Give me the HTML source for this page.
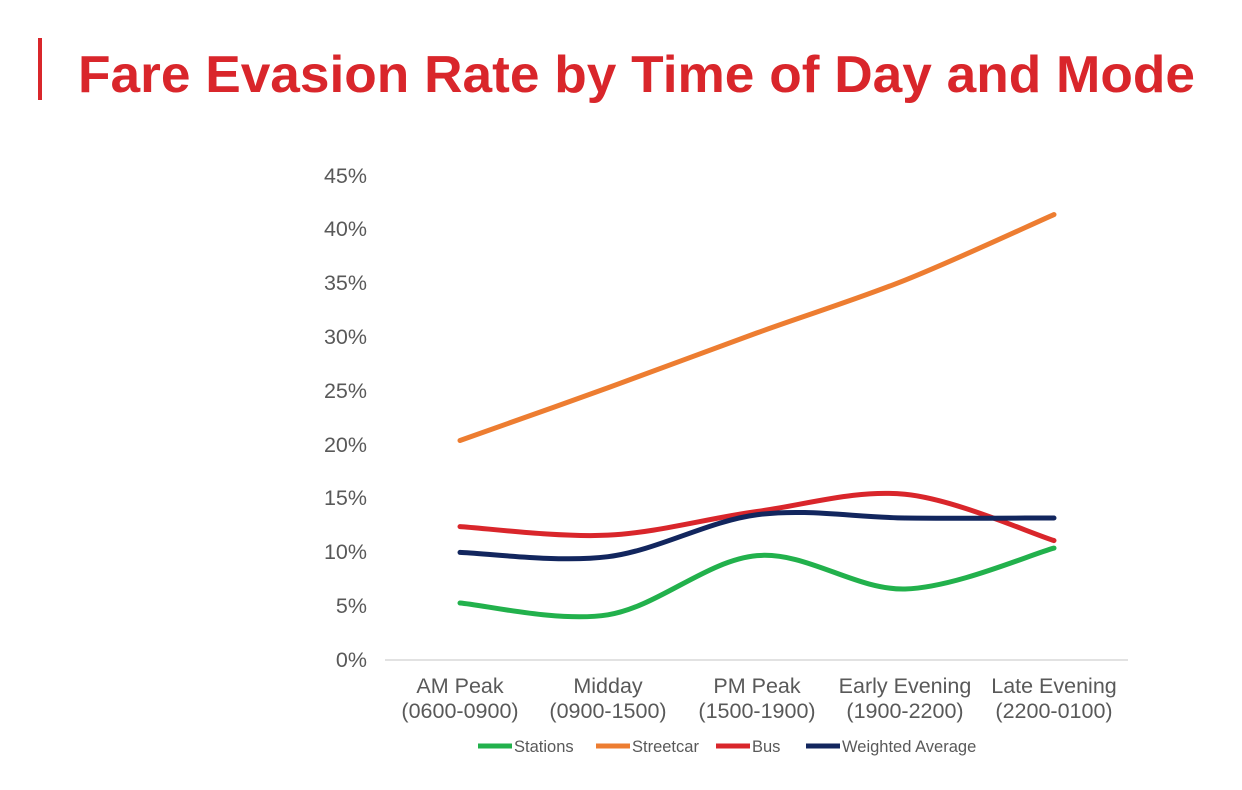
<!DOCTYPE html>
<html><head><meta charset="utf-8"><style>
body{margin:0;background:#fff;width:1242px;height:785px;overflow:hidden;font-family:"Liberation Sans",sans-serif}
</style></head><body>
<svg id="s" width="1242" height="785" xmlns="http://www.w3.org/2000/svg" font-family="Liberation Sans, sans-serif">
<rect x="38" y="38" width="4" height="62" fill="#d9262b"/>
<text x="78" y="92" font-size="52" font-weight="bold" fill="#d9262b" textLength="1117" lengthAdjust="spacingAndGlyphs">Fare Evasion Rate by Time of Day and Mode</text>
<line x1="385" y1="660" x2="1128" y2="660" stroke="#d9d9d9" stroke-width="1.5"/>
<g font-size="21.5" fill="#595959" text-anchor="end">
<text x="367" y="667">0%</text><text x="367" y="613">5%</text><text x="367" y="559">10%</text>
<text x="367" y="505">15%</text><text x="367" y="452">20%</text><text x="367" y="398">25%</text>
<text x="367" y="344">30%</text><text x="367" y="290">35%</text><text x="367" y="236">40%</text><text x="367" y="183">45%</text>
</g>
<g font-size="21.5" fill="#595959" text-anchor="middle">
<text x="460" y="693">AM Peak</text><text x="460" y="718">(0600-0900)</text>
<text x="608" y="693">Midday</text><text x="608" y="718">(0900-1500)</text>
<text x="757" y="693">PM Peak</text><text x="757" y="718">(1500-1900)</text>
<text x="905" y="693">Early Evening</text><text x="905" y="718">(1900-2200)</text>
<text x="1054" y="693">Late Evening</text><text x="1054" y="718">(2200-0100)</text>
</g>
<g id="lines" fill="none" stroke-width="5" stroke-linecap="round"></g>
<g font-size="16.5" fill="#595959">
<line x1="478" y1="746" x2="512" y2="746" stroke="#22b14c" stroke-width="5"/><text x="514" y="752">Stations</text>
<line x1="596" y1="746" x2="630" y2="746" stroke="#ed7d31" stroke-width="5"/><text x="632" y="752">Streetcar</text>
<line x1="716" y1="746" x2="750" y2="746" stroke="#d9262b" stroke-width="5"/><text x="752" y="752">Bus</text>
<line x1="806" y1="746" x2="840" y2="746" stroke="#12265e" stroke-width="5"/><text x="842" y="752">Weighted Average</text>
</g>
</svg>
<script>
var xs=[460,608,757,905,1054];
function y(v){return 660-v*10.76;}
var series=[
["#ed7d31",[20.4,25.3,30.4,35.3,41.4]],
["#d9262b",[12.4,11.6,13.8,15.4,11.1]],
["#12265e",[10.0,9.6,13.5,13.2,13.2]],
["#22b14c",[5.3,4.2,9.7,6.6,10.4]]];
var g=document.getElementById('lines');
series.forEach(function(s){
 var p=s[1].map(function(v,i){return [xs[i],y(v)];});
 var d='M'+p[0][0]+','+p[0][1];
 for(var i=0;i<p.length-1;i++){
  var p0=p[i-1]||p[i],p1=p[i],p2=p[i+1],p3=p[i+2]||p[i+1],t=6;
  d+=' C'+(p1[0]+(p2[0]-p0[0])/t)+','+(p1[1]+(p2[1]-p0[1])/t)+' '+(p2[0]-(p3[0]-p1[0])/t)+','+(p2[1]-(p3[1]-p1[1])/t)+' '+p2[0]+','+p2[1];
 }
 var e=document.createElementNS('http://www.w3.org/2000/svg','path');
 e.setAttribute('d',d);e.setAttribute('stroke',s[0]);g.appendChild(e);
});
</script>
</body></html>
